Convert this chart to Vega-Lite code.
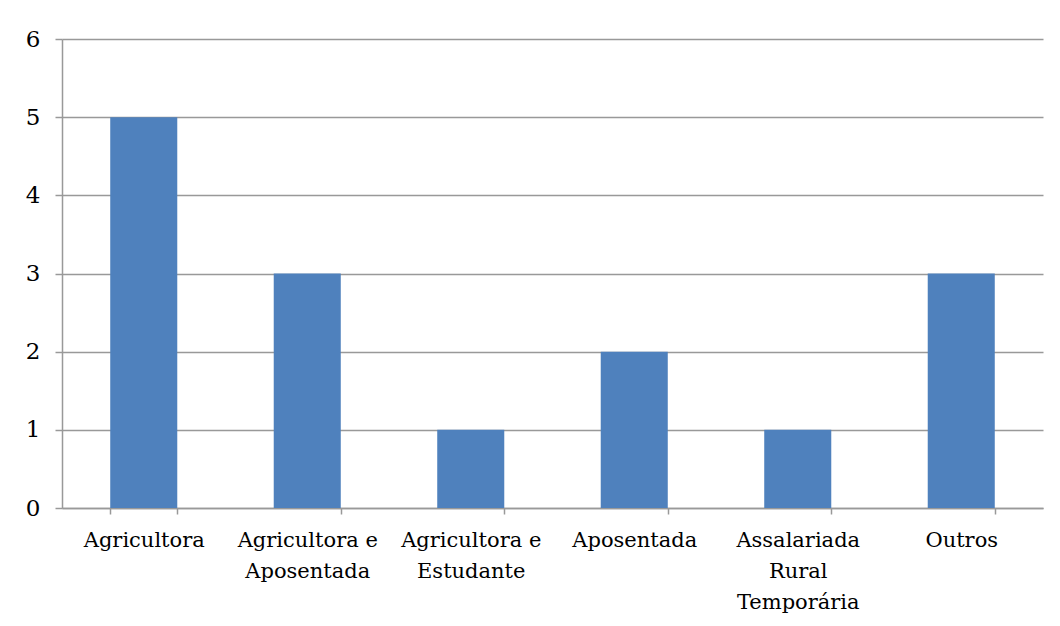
{
  "$schema": "https://vega.github.io/schema/vega-lite/v6.json",
  "width": 981,
  "height": 469,
  "autosize": {"type": "none"},
  "padding": {"left": 62, "top": 39, "right": 17, "bottom": 118},
  "background": "white",
  "config": {
    "view": {"stroke": null},
    "font": "DejaVu Serif"
  },
  "data": {
    "values": [
      {"categoria": "Agricultora", "valor": 5},
      {"categoria": "Agricultora e Aposentada", "valor": 3},
      {"categoria": "Agricultora e Estudante", "valor": 1},
      {"categoria": "Aposentada", "valor": 2},
      {"categoria": "Assalariada Rural Temporária", "valor": 1},
      {"categoria": "Outros", "valor": 3}
    ]
  },
  "mark": {"type": "bar", "color": "#4F81BD"},
  "encoding": {
    "x": {
      "field": "categoria",
      "type": "nominal",
      "sort": null,
      "scale": {"paddingInner": 0.59, "paddingOuter": 0.295},
      "axis": {
        "title": null,
        "labelAngle": 0,
        "labelFont": "DejaVu Serif",
        "labelFontSize": 21,
        "labelColor": "#000000",
        "labelLimit": 0,
        "labelPadding": 15,
        "labelLineHeight": 31,
        "labelBaseline": "top",
        "labelExpr": "split(replace(replace(datum.label, ' e ', ' e|'), 'Assalariada Rural ', 'Assalariada|Rural|'), '|')",
        "tickBand": "extent",
        "tickSize": 6,
        "tickColor": "#999999",
        "tickWidth": 1.5,
        "domainColor": "#999999",
        "domainWidth": 1.5,
        "grid": false
      }
    },
    "y": {
      "field": "valor",
      "type": "quantitative",
      "scale": {"domain": [0, 6], "nice": false},
      "axis": {
        "title": null,
        "values": [0, 1, 2, 3, 4, 5, 6],
        "labelFont": "DejaVu Serif",
        "labelFontSize": 23,
        "labelColor": "#000000",
        "labelPadding": 15,
        "tickSize": 7,
        "tickColor": "#999999",
        "tickWidth": 1.5,
        "domainColor": "#999999",
        "domainWidth": 1.5,
        "grid": true,
        "gridColor": "#999999",
        "gridWidth": 1.5
      }
    }
  }
}
